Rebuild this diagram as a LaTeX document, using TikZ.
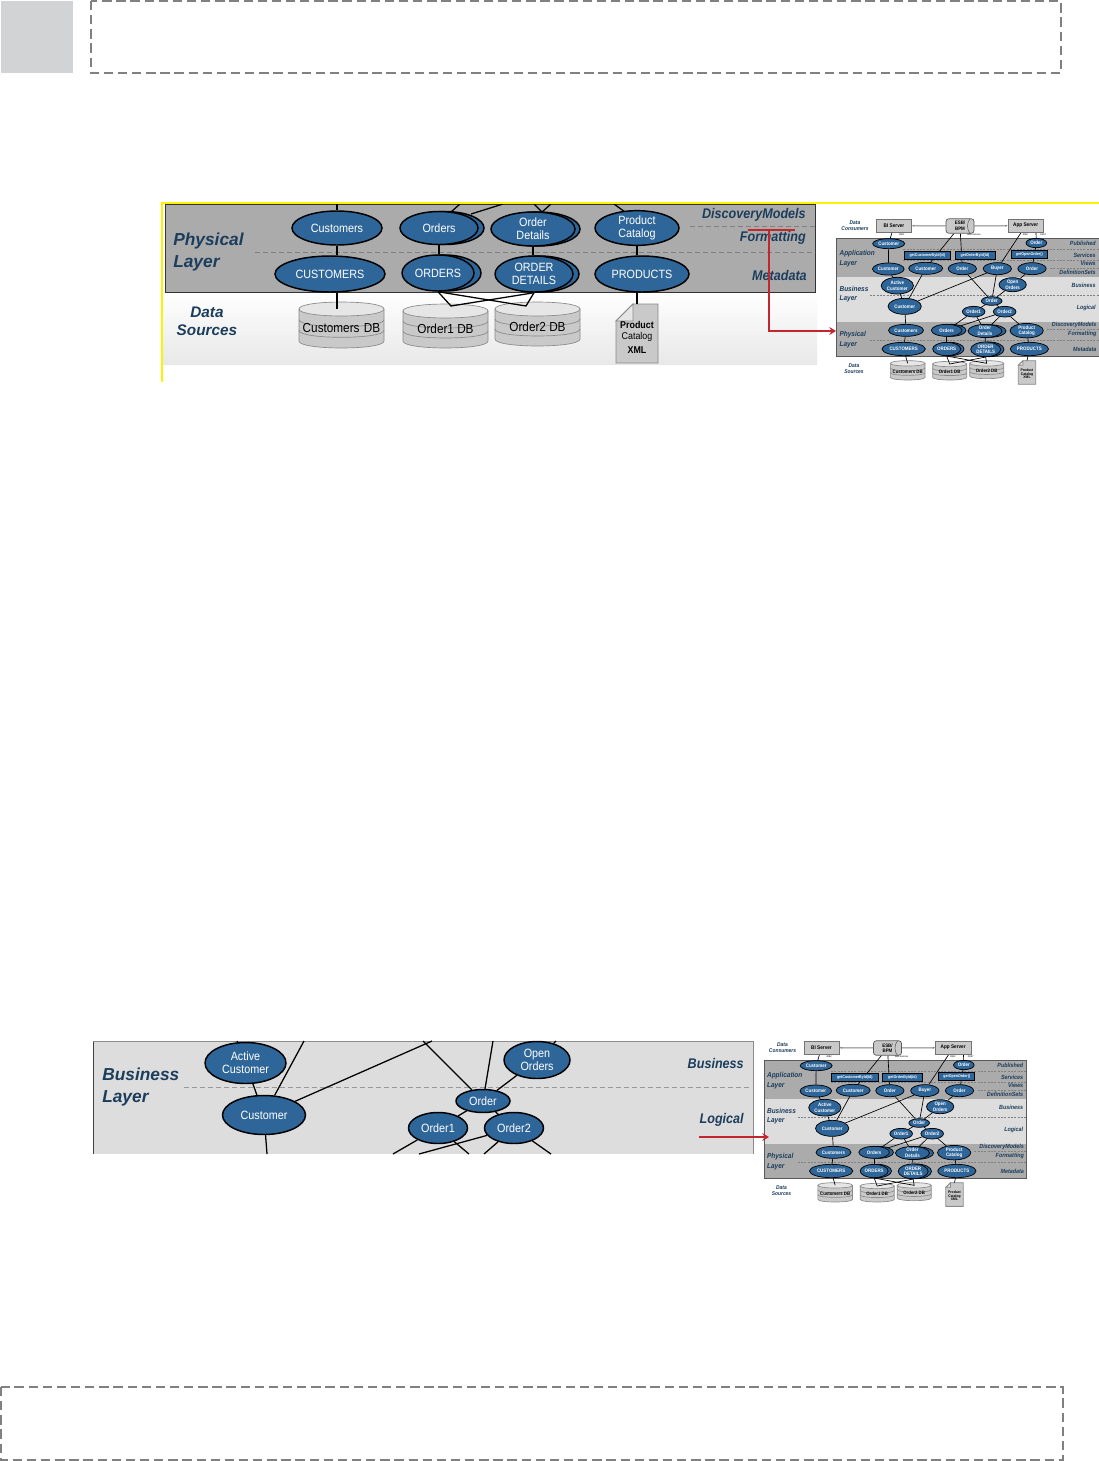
\documentclass[tikz,border=0pt]{standalone}
\usepackage{fontspec}
\setmainfont{Liberation Sans}
\newfontfamily\cond[FakeStretch=0.9]{Liberation Sans}
\usetikzlibrary{shapes.geometric,arrows.meta}
\definecolor{ovblue}{HTML}{2F6699}
\definecolor{navy}{HTML}{1C3D5C}
\definecolor{darkband}{HTML}{ABABAB}
\definecolor{lightband}{HTML}{DDDDDD}
\definecolor{dbbody}{HTML}{C9C9C9}
\definecolor{dbtop}{HTML}{E6E6E6}
\definecolor{dbline}{HTML}{8A8A8A}
\definecolor{dashgray}{HTML}{808080}
\definecolor{redline}{HTML}{C1272D}
\definecolor{sqgray}{HTML}{D1D3D4}
\pgfdeclarelayer{bands}
\pgfdeclarelayer{lines}
\pgfsetlayers{bands,lines,main}
\def\un{0.75}
\def\ovw{1.1pt}
\def\cnw{0.95pt}
\def\fsz#1{\fontsize{#1}{#1}\selectfont}
\def\ovf{\cond\fsz{9}}
\tikzset{
  oval/.style={ellipse,draw=black,fill=ovblue,text=white,inner sep=0pt,align=center,line width=\ovw,font=\ovf},
  conn/.style={draw=black,line width=\cnw},
  separator/.style={draw=dashgray,line width=0.55pt,dash pattern=on 4pt off 2pt},
  framebox/.style={draw=dashgray,line width=1.15pt,dash pattern=on 7pt off 3.6pt},
  redl/.style={draw=redline,line width=2pt},
  lab/.style={inner sep=0pt,text=navy,align=center},
  labr/.style={inner sep=0pt,text=navy,anchor=east,align=right},
  labl/.style={inner sep=0pt,text=navy,anchor=west,align=left},
  tag/.style={inner sep=0pt,align=center,text=black},
}
% name x y w h text
\newcommand\ov[6]{\node[oval,minimum width=#4*\un pt,minimum height=#5*\un pt] (#1) at (#2,#3) {#6};}
% stacked oval: one more oval behind, offset to the right
\newcommand\ovd[7]{%
  \node[oval,minimum width=#4*\un pt,minimum height=#5*\un pt] (#1b1) at ({#2+#7},#3) {};
  \node[oval,minimum width=#4*\un pt,minimum height=#5*\un pt] (#1) at (#2,#3) {#6};}
% name cx top w h ry text font
\newcommand\dbc[8]{%
  \pgfmathsetmacro\dl{#2-#4/2}\pgfmathsetmacro\dr{#2+#4/2}
  \pgfmathsetmacro\dt{#3+#6}\pgfmathsetmacro\db{#3+#5-#6}
  \pgfmathsetmacro\dbm{#6*1.33}
  \pgfmathsetmacro\ba{\dt+(\db-\dt)/3}\pgfmathsetmacro\bb{\dt+2*(\db-\dt)/3}
  \filldraw[fill=dbbody,draw=dbline,line width=0.5pt] (\dl,\dt) -- (\dl,\db) .. controls (\dl,\db+\dbm) and (\dr,\db+\dbm) .. (\dr,\db) -- (\dr,\dt) -- cycle;
  \draw[dbline,line width=0.5pt] (\dl,\ba) .. controls (\dl,\ba+\dbm) and (\dr,\ba+\dbm) .. (\dr,\ba);
  \draw[dbline,line width=0.5pt] (\dl,\bb) .. controls (\dl,\bb+\dbm) and (\dr,\bb+\dbm) .. (\dr,\bb);
  \filldraw[fill=dbtop,draw=dbline,line width=0.5pt] (\dl,\dt) .. controls (\dl,\dt+\dbm) and (\dr,\dt+\dbm) .. (\dr,\dt) .. controls (\dr,\dt-\dbm) and (\dl,\dt-\dbm) .. cycle;
  \node[tag,font=#8] (#1) at (#2,{#3+#5/2+#6*0.4}) {#7};
  \coordinate (#1top) at (#2,\dt);}
% name left top right bottom fold text font
\newcommand\docsh[8]{%
  \filldraw[fill=dbbody,draw=dbline,line width=0.6pt] ({#2+#6},#3) -- (#4,#3) -- (#4,#5) -- (#2,#5) -- (#2,{#3+#6}) -- cycle;
  \filldraw[fill=dbtop,draw=dbline,line width=0.6pt] ({#2+#6},#3) -- ({#2+#6},{#3+#6}) -- (#2,{#3+#6}) -- cycle;
  \coordinate (#1top) at ({(#2+#4)/2},#3);
  \node[tag,font=#8] (#1) at ({(#2+#4)/2},{(#3+#3+#6+#5+#5)/4}) {#7};}

% ---------- thumbnail of the complete architecture, coordinates are 3x pixels
\newcommand\thumb{%
  \def\un{0.25}\def\ovw{0.55pt}\def\cnw{0.5pt}\def\ovf{\cond\bfseries\fsz{3.7}}
  \def\lf{\cond\bfseries\itshape\fsz{5.4}}
  \def\tf{\cond\bfseries\itshape\fsz{4.5}}
  \begin{pgfonlayer}{bands}
    \fill[darkband] (20,85) rectangle (807,200);
    \fill[lightband] (20,200) rectangle (807,337);
    \fill[darkband] (20,337) rectangle (807,440);
    \draw[black!65,line width=0.3pt] (20,85) rectangle (807,440);
    \coordinate (sa1) at (220,118); \coordinate (ea1) at (807,118);
    \coordinate (sa2) at (220,150); \coordinate (ea2) at (807,150);
    \coordinate (sa3) at (660,175); \coordinate (ea3) at (807,175);
    \coordinate (sb1) at (120,254); \coordinate (eb1) at (807,254);
    \coordinate (sp1) at (650,356); \coordinate (ep1) at (807,356);
    \coordinate (sp2) at (120,391); \coordinate (ep2) at (807,391);
    \foreach \s/\e in {sa1/ea1,sa2/ea2,sa3/ea3,sb1/eb1,sp1/ep1,sp2/ep2}
      \draw[dashgray,line width=0.25pt,dash pattern=on 1.5pt off 1pt] (\s) -- (\e);
    \dbc{dbcust}{233}{452}{104}{58}{8}{Customers DB}{\cond\bfseries\fsz{3.6}}
    \dbc{dbone}{359}{454}{102}{56}{8}{Order1 DB}{\cond\bfseries\fsz{3.6}}
    \dbc{dbtwo}{470}{452}{102}{54}{8}{Order2 DB}{\cond\bfseries\fsz{3.6}}
    \docsh{xml}{565}{452}{617}{523}{14}{Product\\Catalog\\XML}{\cond\bfseries\fsz{2.8}}
  \end{pgfonlayer}
  \node[lab,font=\cond\bfseries\itshape\fsz{4.1}] (dc) at (75,47) {Data\\[1pt]Consumers};
  \node[lab,font=\cond\bfseries\itshape\fsz{4.1}] (ds) at (72,476) {Data\\[1pt]Sources};
  \node[draw=black!55,fill=dbbody,inner sep=0pt,line width=0.5pt,minimum width=26.5pt,minimum height=10.2pt,font=\cond\bfseries\fsz{3.9}] (bi) at (192,47) {BI Server};
  \node[draw=black!55,fill=dbbody,inner sep=0pt,line width=0.5pt,minimum width=26.5pt,minimum height=10.2pt,font=\cond\bfseries\fsz{3.9}] (app) at (587,47) {App Server};
  \node[draw=black!65,fill=dbbody,rounded corners=2pt,inner sep=0pt,line width=0.5pt,minimum width=21pt,minimum height=10.8pt,align=center,font=\cond\bfseries\fsz{3.7}] (esb) at (390,48) {ESB/\\[0.5pt]BPM};
  \coordinate (esbu) at (420,27); \coordinate (esbl) at (420,70);
  \draw[black!65,line width=0.4pt] (esbu) .. controls (410,36) and (410,60) .. (esbl);
  \begin{pgfonlayer}{lines}
    \draw[dashgray,line width=0.7pt,-{Stealth[length=2pt]}] (esb) -- (bi);
    \draw[dashgray,line width=0.7pt,-{Stealth[length=2pt]}] (esb) -- (app);
  \end{pgfonlayer}
  \node[tag,font=\cond\fsz{1.8}] (j1) at (215,75) {JDBC};
  \node[tag,font=\cond\fsz{1.8}] (ws) at (432,75) {Web Services};
  \node[tag,font=\cond\fsz{1.8}] (j2) at (586,75) {JDBC};
  \node[tag,font=\cond\fsz{1.8}] (rs) at (640,75) {REST};
  \node[labl,font=\lf] (al) at (28,146) {Application\\[1.5pt]Layer};
  \node[labl,font=\lf] (bl) at (28,252) {Business\\[1.5pt]Layer};
  \node[labl,font=\lf] (pl) at (28,389) {Physical\\[1.5pt]Layer};
  \node[labr,font=\tf] (t1) at (798,101) {Published};
  \node[labr,font=\tf] (t2) at (798,135) {Services};
  \node[labr,font=\tf] (t3) at (798,161) {Views};
  \node[labr,font=\tf] (t4) at (798,188) {DefinitionSets};
  \node[labr,font=\tf] (t5) at (798,225) {Business};
  \node[labr,font=\tf] (t6) at (798,293) {Logical};
  \node[labr,font=\tf] (t7) at (800,345) {DiscoveryModels};
  \node[labr,font=\tf] (t8) at (800,372) {Formatting};
  \node[labr,font=\tf] (t9) at (800,418) {Metadata};
  \tikzset{blk/.style={draw=black,fill=ovblue,text=white,inner sep=0pt,line width=0.55pt,minimum height=6.2pt,font=\cond\bfseries\fsz{3}}}
  \node[blk,minimum width=35pt] (g1) at (292,135) {getCustomerById(Id)};
  \node[blk,minimum width=30pt] (g2) at (435,135) {getOrderById(Id)};
  \node[blk,minimum width=27pt] (g3) at (598,134) {getOpenOrder()};
  \ov{c0}{176}{101}{96}{30}{Customer}
  \ov{o0}{619}{99}{62}{28}{Order}
  \ov{c1}{175}{177}{95}{36}{Customer}
  \ov{c2}{287}{175}{102}{36}{Customer}
  \ov{o1}{397}{176}{85}{36}{Order}
  \ov{bu}{502}{176}{85}{36}{Buyer}
  \ov{o2}{606}{176}{85}{36}{Order}
  \ov{ac}{202}{227}{97}{50}{Active\\[0.5pt]Customer}
  \ov{oo}{548}{224}{82}{42}{Open\\[0.5pt]Orders}
  \ov{cu}{224}{289}{100}{48}{Customer}
  \ov{or}{485}{273}{62}{26}{Order}
  \ov{r1}{431}{305}{68}{32}{Order1}
  \ov{r2}{524}{305}{68}{32}{Order2}
  \ov{pc}{228}{361}{105}{36}{Customers}
  \ovd{po}{350}{361}{92}{36}{Orders}{12}
  \ovd{pd}{465}{363}{102}{38}{Order\\[0.5pt]Details}{12}
  \ov{pp}{590}{362}{100}{38}{Product\\[0.5pt]Catalog}
  \ov{mc}{221}{417}{130}{40}{CUSTOMERS}
  \ovd{mo}{350}{417}{84}{40}{ORDERS}{10}
  \ovd{md}{467}{418}{90}{44}{ORDER\\[0.5pt]DETAILS}{10}
  \ov{mp}{598}{417}{115}{40}{PRODUCTS}
  \begin{pgfonlayer}{lines}
    \foreach \a/\b in {bi/c0,c0/c1,esb/c2,esb/o1,app/bu,o0/o2,ac/c1,ac/cu,c2/cu,cu/bu,o1/or,bu/or,oo/or,o2/oo,or/r1,or/r2,cu/pc,pc/mc,r1/po,r1/pd,r2/po,r2/pd,r2/pp,po/mo,pd/md,pp/mp}
      \draw[conn] (\a) -- (\b);
    \coordinate (appr) at (618,68);
    \draw[conn] (appr) -- (o0);
    \draw[conn] (mc) -- (dbcusttop);
    \draw[conn] (mo.south) -- (dbonetop) -- (md.south);
    \draw[conn] (mo.south) -- (dbtwotop) -- (md.south);
    \draw[conn] (mp) -- (xmltop);
  \end{pgfonlayer}
}

\begin{document}
\begin{tikzpicture}[x=0.75pt,y=-0.75pt]
\useasboundingbox (0,0) rectangle (1099,1461);

% header and footer
\fill[sqgray] (1,1) rectangle (73,73);
\draw[framebox] (91,1) rectangle (1061,73);
\draw[framebox] (1,1387) rectangle (1063,1460);

% ========== upper enlarged view: physical layer
\begin{pgfonlayer}{bands}
  \fill[white] (0,0) rectangle (1099,1461);
  \shade[top color=white,bottom color=black!9] (163,292) rectangle (817,364);
  \filldraw[fill=darkband,draw=black!80,line width=0.7pt] (165,204) rectangle (815,292);
  \coordinate (ds1a) at (255,252); \coordinate (ds1b) at (815,252);
  \coordinate (ds2a) at (690,226); \coordinate (ds2b) at (815,226);
  \draw[separator] (ds1a) -- (ds1b);
  \draw[separator] (ds2a) -- (ds2b);
  \dbc{dbcust}{341.5}{302}{85}{46}{7}{Customers\,\,DB}{\cond\fsz{9.8}}
  \dbc{dbone}{445.5}{304}{85}{44}{7}{Order1 DB}{\cond\fsz{9.8}}
  \dbc{dbtwo}{537.5}{302}{85}{44}{7}{Order2 DB}{\cond\fsz{9.8}}
  \docsh{xml}{616}{304}{658}{363}{17}{\bfseries Product\\[1pt]Catalog\\[3pt]\bfseries XML}{\cond\fsz{7.4}}
\end{pgfonlayer}
\coordinate (yo) at (162,203); \coordinate (yh) at (1099,203); \coordinate (yv) at (162,382);
\draw[yellow,line width=1.2pt] (yh) -- (yo) -- (yv);

\node[labl,font=\bfseries\itshape\fsz{13}] (physlab) at (173,252) {Physical\\[3pt]Layer};
\node[lab,font=\bfseries\itshape\fsz{11.5}] (dslab) at (207,321) {Data\\[2pt]Sources};
\node[labr,font=\cond\bfseries\itshape\fsz{10.5}] (lbl1) at (806,215) {DiscoveryModels};
\node[labr,font=\cond\bfseries\itshape\fsz{10.5}] (lbl2) at (806,238) {Formatting};
\node[labr,font=\cond\bfseries\itshape\fsz{10.5}] (lbl3) at (807,275) {Metadata};

\ov{ca}{337}{228}{90}{34}{Customers}
\ovd{ob}{439}{228}{78}{33}{Orders}{6}
\ovd{de}{533}{229}{84}{34}{Order\\[1pt]Details}{5}
\ov{pr}{637}{228}{84}{34}{Product\\[1pt]Catalog}
\ov{cm}{330}{274}{110}{36}{CUSTOMERS}
\ovd{om}{438}{273}{72}{36}{ORDERS}{7}
\ovd{dm}{534}{274}{78}{36}{ORDER\\[1pt]DETAILS}{6}
\ov{pm}{642}{274}{94}{36}{PRODUCTS}

\coordinate (u1) at (337,204);
\coordinate (u2) at (460,204); \coordinate (u2e) at (451,212);
\coordinate (u3) at (503,204); \coordinate (u3e) at (471,214);
\coordinate (u4) at (534,204); \coordinate (u5) at (551,204); \coordinate (u45) at (542,212);
\coordinate (u6) at (614,204); \coordinate (u6e) at (625,212);
\begin{pgfonlayer}{lines}
  \draw[conn] (u1) -- (ca);
  \draw[conn] (u2) -- (u2e);
  \draw[conn] (u3) -- (u3e);
  \draw[conn] (u4) -- (u45) -- (u5);
  \draw[conn] (u6) -- (u6e);
  \draw[conn] (ca) -- (ca|-cm.north);
  \draw[conn] (ob) -- (ob|-om.north);
  \draw[conn] (de) -- (de|-dm.north);
  \draw[conn] (pr) -- (pr|-pm.north);
  \draw[conn] (ca|-cm.south) -- (ca|-dbcusttop);
  \coordinate (apx1) at (451,306); \coordinate (apx2) at (526,306);
  \draw[conn] (om.south) -- (apx1) -- (dm.south);
  \draw[conn] (om.south) -- (apx2) -- (dm.south);
  \draw[conn] (xmltop) -- (xmltop|-pm.south);
\end{pgfonlayer}

% red marker of the upper view
\coordinate (rb1) at (748,230); \coordinate (rb2) at (795,230);
\coordinate (rc) at (769,230); \coordinate (rd) at (769,331); \coordinate (re) at (836,331);
\draw[redl] (rb1) -- (rb2);
\draw[redl,-{Stealth[length=5pt,width=6pt]}] (rc) -- (rd) -- (re);

% ========== lower enlarged view: business layer
\begin{pgfonlayer}{bands}
  \fill[lightband] (93,1041) rectangle (753,1154);
  \coordinate (pl1) at (93,1154); \coordinate (pl2) at (93,1041); \coordinate (pl3) at (753,1041); \coordinate (pl4) at (753,1154);
  \draw[black!75,line width=0.6pt] (pl1) -- (pl2);
  \draw[black!45,line width=0.6pt] (pl2) -- (pl3) -- (pl4);
  \coordinate (ls1) at (184,1087); \coordinate (ls2) at (750,1087);
  \draw[separator,draw=dashgray!80] (ls1) -- (ls2);
\end{pgfonlayer}
\node[labl,font=\bfseries\itshape\fsz{13}] (bizlab) at (102,1087) {Business\\[3pt]Layer};
\node[labr,font=\cond\bfseries\itshape\fsz{10.5}] (lb1) at (744,1063) {Business};
\node[labr,font=\cond\bfseries\itshape\fsz{10.5}] (lb2) at (744,1120) {Logical};

\ov{acu}{245.5}{1063}{81}{41}{Active\\[1pt]Customer}
\ov{oor}{537}{1060}{66}{37}{Open\\[1pt]Orders}
\ov{cus}{264}{1115}{83}{39}{Customer}
\ov{ord}{483}{1101}{54}{23}{Order}
\ov{or1}{438}{1128}{59}{31}{Order1}
\ov{or2}{514}{1128}{59}{31}{Order2}

\coordinate (v1) at (237,1041);
\coordinate (v2) at (304,1041);
\coordinate (v3) at (432,1041);
\coordinate (v4) at (423,1041);
\coordinate (v5) at (493,1041);
\coordinate (v6) at (556,1041);
\coordinate (v7) at (267,1154);
\coordinate (v8) at (393,1154);
\coordinate (v9) at (469,1154);
\coordinate (v10) at (419,1154);
\coordinate (v11) at (484,1154);
\coordinate (v12) at (551,1154);
\begin{pgfonlayer}{lines}
  \draw[conn] (v1) -- (acu);
  \draw[conn] (acu) -- (cus);
  \draw[conn] (v2) -- (cus);
  \draw[conn] (v3) -- (cus);
  \draw[conn] (v4) -- (ord);
  \draw[conn] (v5) -- (ord);
  \draw[conn] (v6) -- (oor);
  \draw[conn] (oor) -- (ord);
  \draw[conn] (ord) -- (or1);
  \draw[conn] (ord) -- (or2);
  \draw[conn] (cus) -- (v7);
  \draw[conn] (or1) -- (v8);
  \draw[conn] (or1) -- (v9);
  \draw[conn] (or2) -- (v10);
  \draw[conn] (or2) -- (v11);
  \draw[conn] (or2) -- (v12);
\end{pgfonlayer}

% red arrow of the lower view
\coordinate (ra) at (699,1137); \coordinate (rb) at (769,1137);
\draw[redl,-{Stealth[length=5pt,width=6pt]}] (ra) -- (rb);

% ========== thumbnails
\begin{scope}[shift={(830,210)},x=0.25pt,y=-0.25pt,name prefix=ta-]
  \thumb
\end{scope}
\begin{scope}[shift={(757.5,1032)},x=0.25pt,y=-0.25pt,name prefix=tb-]
  \thumb
\end{scope}
\end{tikzpicture}
\end{document}
